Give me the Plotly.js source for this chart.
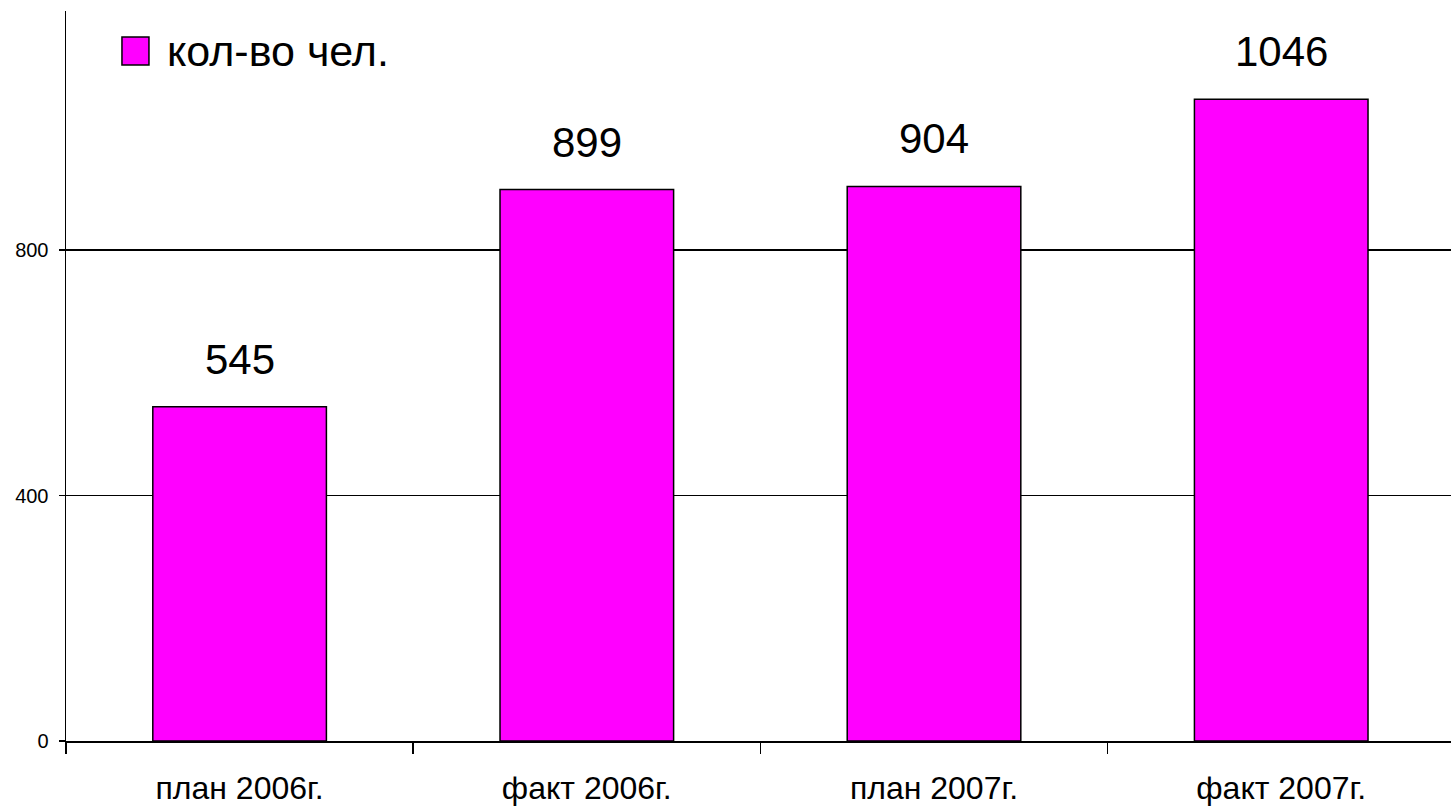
<!DOCTYPE html>
<html>
<head>
<meta charset="utf-8">
<script src="https://cdn.plot.ly/plotly-3.0.1.min.js"></script>
<style>
html,body{margin:0;padding:0;background:#fff;}
#chart{width:1451px;height:808px;}
</style>
</head>
<body>
<div id="chart"></div>
<script>
const categories = ["план 2006г.", "факт 2006г.", "план 2007г.", "факт 2007г."];
const values = [545, 899, 904, 1046];
const seriesName = "кол-во чел.";
const yTicks = [0, 400, 800];

const FONT = "Liberation Sans, Arial, sans-serif";

const trace = {
  type: "bar",
  x: categories,
  y: values,
  name: seriesName,
  marker: {color: "#FF00FF", line: {color: "#000000", width: 1.5}},
  hoverinfo: "x+y",
  showlegend: false
};

const labelAnnotations = categories.map((c, i) => ({
  x: c, y: values[i], xref: "x", yref: "y",
  text: String(values[i]),
  showarrow: false, yanchor: "bottom", yshift: 22,
  font: {family: FONT, size: 42, color: "#000"}
}));

const legendAnnotation = {
  xref: "paper", yref: "paper",
  x: 0.0715, y: 0.945, xanchor: "left", yanchor: "middle",
  text: seriesName, showarrow: false,
  font: {family: FONT, size: 43, color: "#000"}
};

const layout = {
  width: 1451, height: 808,
  margin: {l: 66, r: 0, t: 11, b: 67},
  paper_bgcolor: "#fff", plot_bgcolor: "#fff",
  font: {family: FONT, color: "#000"},
  bargap: 0.5,
  showlegend: false,
  xaxis: {
    type: "category",
    range: [-0.5, 3.489],
    showline: true, linecolor: "#000", linewidth: 1.5,
    ticks: "outside", tickson: "boundaries", ticklen: 11, tickwidth: 1.5, tickcolor: "#000",
    showgrid: false, zeroline: false,
    tickfont: {family: FONT, size: 32, color: "#000"},
    ticklabelstandoff: 18,
    fixedrange: true
  },
  yaxis: {
    range: [0, 1190],
    tickvals: yTicks, ticktext: yTicks.map(String),
    showline: true, linecolor: "#000", linewidth: 1.5,
    ticks: "outside", ticklen: 6, tickwidth: 1.5, tickcolor: "#000",
    showgrid: true, gridcolor: "#000", gridwidth: 1.5,
    zeroline: false,
    tickfont: {family: FONT, size: 20, color: "#000"},
    ticklabelstandoff: 6,
    fixedrange: true
  },
  shapes: [{
    type: "rect", xref: "paper", yref: "paper",
    x0: 0.0404, x1: 0.0599, y0: 0.926, y1: 0.9644,
    fillcolor: "#FF00FF", line: {color: "#000", width: 1.5}
  }],
  annotations: labelAnnotations.concat([legendAnnotation])
};

Plotly.newPlot("chart", [trace], layout, {displayModeBar: false, staticPlot: true});
</script>
</body>
</html>
